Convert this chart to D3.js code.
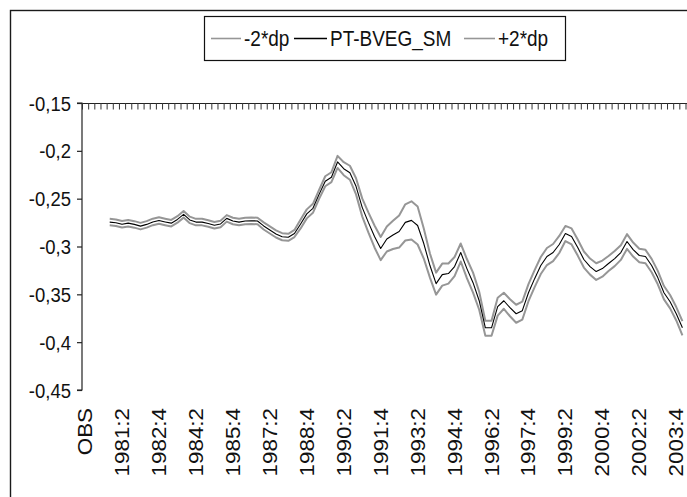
<!DOCTYPE html>
<html>
<head>
<meta charset="utf-8">
<script src="https://cdn.jsdelivr.net/npm/d3@7"></script>
<style>
  html, body { margin: 0; padding: 0; background: #fff; }
  svg { display: block; }
  text { font-family: "Liberation Sans", Arial, sans-serif; fill: #111; }
</style>
</head>
<body>
<svg id="chart" width="687" height="497"></svg>
<script>
// Quarterly categories; the first slot holds the "OBS" header of the sheet.
const categories = [
  "OBS",
  "1980:1","1980:2","1980:3","1980:4",
  "1981:1","1981:2","1981:3","1981:4",
  "1982:1","1982:2","1982:3","1982:4",
  "1983:1","1983:2","1983:3","1983:4",
  "1984:1","1984:2","1984:3","1984:4",
  "1985:1","1985:2","1985:3","1985:4",
  "1986:1","1986:2","1986:3","1986:4",
  "1987:1","1987:2","1987:3","1987:4",
  "1988:1","1988:2","1988:3","1988:4",
  "1989:1","1989:2","1989:3","1989:4",
  "1990:1","1990:2","1990:3","1990:4",
  "1991:1","1991:2","1991:3","1991:4",
  "1992:1","1992:2","1992:3","1992:4",
  "1993:1","1993:2","1993:3","1993:4",
  "1994:1","1994:2","1994:3","1994:4",
  "1995:1","1995:2","1995:3","1995:4",
  "1996:1","1996:2","1996:3","1996:4",
  "1997:1","1997:2","1997:3","1997:4",
  "1998:1","1998:2","1998:3","1998:4",
  "1999:1","1999:2","1999:3","1999:4",
  "2000:1","2000:2","2000:3","2000:4",
  "2001:1","2001:2","2001:3","2001:4",
  "2002:1","2002:2","2002:3","2002:4",
  "2003:1","2003:2","2003:3","2003:4",
  "2004:1"
];

// Category labels written under the plot (every sixth slot).
const tickLabels = ["OBS","1981:2","1982:4","1984:2","1985:4","1987:2","1988:4","1990:2",
  "1991:4","1993:2","1994:4","1996:2","1997:4","1999:2","2000:4","2002:2","2003:4"];

const yTicks = [-0.15, -0.2, -0.25, -0.3, -0.35, -0.4, -0.45];

// Series begin in 1980:4 and run to 2004:1.
const seriesStart = "1980:4";

const smoothed = [
  -0.2745,
  -0.2752, -0.2767, -0.2756, -0.2769,
  -0.2787, -0.2769, -0.2743, -0.2729,
  -0.2743, -0.2756, -0.2717, -0.2664,
  -0.2722, -0.2745, -0.2745, -0.2759,
  -0.2777, -0.2764, -0.2706, -0.2733,
  -0.2745, -0.2733, -0.2731, -0.2733,
  -0.2785, -0.2827, -0.2869, -0.2898,
  -0.2904, -0.2864, -0.2764, -0.2659,
  -0.2601, -0.2455, -0.2318, -0.2276,
  -0.2116, -0.2187, -0.2229, -0.2371,
  -0.2591, -0.2748, -0.2895, -0.3021,
  -0.2921, -0.2879, -0.2843, -0.2748,
  -0.2727, -0.2780, -0.2969, -0.3199,
  -0.3388, -0.3294, -0.3283, -0.3210,
  -0.3063, -0.3231, -0.3378, -0.3567,
  -0.3850, -0.3850, -0.3629, -0.3567,
  -0.3640, -0.3703, -0.3671, -0.3483,
  -0.3336, -0.3199, -0.3105, -0.3063,
  -0.2979, -0.2864, -0.2895, -0.3011,
  -0.3136, -0.3210, -0.3262, -0.3231,
  -0.3178, -0.3126, -0.3063, -0.2948,
  -0.3032, -0.3094, -0.3105, -0.3199,
  -0.3325, -0.3483, -0.3577, -0.3703,
  -0.3850
];

const minus2dp = [
  -0.2779,
  -0.2786, -0.2801, -0.2790, -0.2803,
  -0.2821, -0.2803, -0.2777, -0.2763,
  -0.2777, -0.2790, -0.2751, -0.2698,
  -0.2756, -0.2779, -0.2779, -0.2793,
  -0.2811, -0.2798, -0.2740, -0.2767,
  -0.2779, -0.2767, -0.2765, -0.2767,
  -0.2822, -0.2864, -0.2906, -0.2935,
  -0.2941, -0.2901, -0.2811, -0.2706,
  -0.2648, -0.2502, -0.2370, -0.2328,
  -0.2179, -0.2255, -0.2302, -0.2455,
  -0.2685, -0.2853, -0.3010, -0.3142,
  -0.3052, -0.3026, -0.3011, -0.2937,
  -0.2926, -0.2979, -0.3126, -0.3325,
  -0.3503, -0.3409, -0.3388, -0.3310,
  -0.3157, -0.3331, -0.3483, -0.3661,
  -0.3933, -0.3933, -0.3723, -0.3651,
  -0.3729, -0.3797, -0.3765, -0.3572,
  -0.3425, -0.3288, -0.3194, -0.3152,
  -0.3068, -0.2943, -0.2979, -0.3095,
  -0.3220, -0.3294, -0.3349, -0.3315,
  -0.3257, -0.3205, -0.3140, -0.3025,
  -0.3105, -0.3164, -0.3175, -0.3269,
  -0.3395, -0.3553, -0.3647, -0.3773,
  -0.3930
];

const plus2dp = [
  -0.2711,
  -0.2718, -0.2733, -0.2722, -0.2735,
  -0.2753, -0.2735, -0.2709, -0.2695,
  -0.2709, -0.2722, -0.2683, -0.2630,
  -0.2688, -0.2711, -0.2711, -0.2725,
  -0.2743, -0.2730, -0.2672, -0.2699,
  -0.2711, -0.2699, -0.2697, -0.2699,
  -0.2748, -0.2790, -0.2832, -0.2861,
  -0.2867, -0.2827, -0.2717, -0.2612,
  -0.2554, -0.2408, -0.2266, -0.2224,
  -0.2053, -0.2119, -0.2156, -0.2287,
  -0.2497, -0.2643, -0.2780, -0.2900,
  -0.2790, -0.2732, -0.2675, -0.2559,
  -0.2528, -0.2581, -0.2812, -0.3073,
  -0.3273, -0.3179, -0.3178, -0.3110,
  -0.2969, -0.3131, -0.3273, -0.3473,
  -0.3777, -0.3777, -0.3535, -0.3483,
  -0.3551, -0.3609, -0.3577, -0.3394,
  -0.3247, -0.3110, -0.3016, -0.2974,
  -0.2890, -0.2785, -0.2811, -0.2927,
  -0.3052, -0.3126, -0.3175, -0.3147,
  -0.3099, -0.3047, -0.2986, -0.2871,
  -0.2959, -0.3024, -0.3035, -0.3129,
  -0.3255, -0.3413, -0.3507, -0.3633,
  -0.3780
];

const seriesDefs = [
  { name: "-2*dp",      values: minus2dp, color: "#969696", width: 2.0 },
  { name: "+2*dp",      values: plus2dp,  color: "#969696", width: 2.0 },
  { name: "PT-BVEG_SM", values: smoothed, color: "#000000", width: 1.1 }
];
const legendOrder = ["-2*dp", "PT-BVEG_SM", "+2*dp"];

const svg = d3.select("#chart");
const plot = { left: 82, right: 685.5, top: 103, bottom: 390 };
const STRETCH = 1.12;   // tall lettering of the sheet's chart fonts

// Outer chart frame
svg.append("rect")
  .attr("x", 10.5).attr("y", 10.5)
  .attr("width", 700).attr("height", 500)
  .attr("fill", "none").attr("stroke", "#1a1a1a").attr("stroke-width", 1.4);

const x = d3.scaleBand().domain(categories).range([plot.left, plot.right]).padding(0);
const xEdge = d3.scaleLinear().domain([0, categories.length]).range([plot.left, plot.right]);
const y = d3.scaleLinear().domain([-0.45, -0.15]).range([plot.bottom, plot.top]);

// Decimal comma with a plain hyphen for the sign
const fmtTick = d => String(+d.toFixed(2)).replace(".", ",");

// Value axis on the left
const yAxis = svg.append("g")
  .attr("transform", `translate(${plot.left},0)`)
  .call(d3.axisLeft(y).tickValues(yTicks).tickSize(5).tickPadding(6).tickFormat(fmtTick));
yAxis.select(".domain").attr("stroke", "#222").attr("stroke-width", 1.2)
  .attr("d", `M-5,${plot.top}H0V${plot.bottom}H-5`);
yAxis.selectAll(".tick line").attr("stroke", "#222").attr("stroke-width", 1.2);
yAxis.selectAll(".tick text")
  .attr("font-size", 18.5)
  .attr("fill", "#111")
  .attr("y", null)
  .attr("x", null)
  .attr("transform", `translate(-11,0) scale(1,${STRETCH})`)
  .attr("dy", "0.34em");

// Category axis crossing at -0.15, with a tick between every quarter
const xTopAxis = svg.append("g")
  .attr("transform", `translate(0,${plot.top})`)
  .call(d3.axisBottom(xEdge).tickValues(d3.range(categories.length + 1)).tickSize(6.5).tickFormat(""));
xTopAxis.select(".domain").attr("stroke", "#222").attr("stroke-width", 1.2)
  .attr("d", `M${plot.left},0.5H${plot.right + 2}`);
xTopAxis.selectAll(".tick line").attr("stroke", "#333").attr("stroke-width", 1);

// Category labels placed low, rotated
const xLabelAxis = svg.append("g")
  .attr("transform", `translate(0,408)`)
  .call(d3.axisBottom(x).tickValues(tickLabels).tickSize(0));
xLabelAxis.select(".domain").remove();
xLabelAxis.selectAll(".tick text")
  .attr("font-size", 20)
  .attr("fill", "#111")
  .attr("x", 0).attr("y", 0)
  .attr("dy", "0.35em")
  .attr("text-anchor", "end")
  .attr("transform", `rotate(-90) scale(${STRETCH},1)`);

// Lines
const startIdx = categories.indexOf(seriesStart);
const line = d3.line()
  .x((d, i) => x(categories[startIdx + i]) + x.bandwidth() / 2)
  .y(d => y(d));

svg.append("g").selectAll("path")
  .data(seriesDefs)
  .join("path")
  .attr("d", s => line(s.values))
  .attr("fill", "none")
  .attr("stroke", s => s.color)
  .attr("stroke-width", s => s.width)
  .attr("stroke-linejoin", "round");

// Legend
const legend = svg.append("g");
legend.append("rect")
  .attr("x", 204.5).attr("y", 16.5).attr("width", 361).attr("height", 44)
  .attr("fill", "#fff").attr("stroke", "#111").attr("stroke-width", 1.2);

const legendItems = [
  { x0: 211, x1: 241, tx: 244 },
  { x0: 294, x1: 327, tx: 330 },
  { x0: 464, x1: 495, tx: 498 }
];
legendOrder.forEach((name, k) => {
  const s = seriesDefs.find(d => d.name === name);
  const pos = legendItems[k];
  legend.append("line")
    .attr("x1", pos.x0).attr("x2", pos.x1).attr("y1", 38.5).attr("y2", 38.5)
    .attr("stroke", s.color).attr("stroke-width", s.name === "PT-BVEG_SM" ? 1.3 : 1.6);
  legend.append("text")
    .attr("transform", `translate(${pos.tx},38.5) scale(1,${STRETCH})`)
    .attr("dy", "0.36em")
    .attr("font-size", 19)
    .text(s.name);
});
</script>
</body>
</html>
